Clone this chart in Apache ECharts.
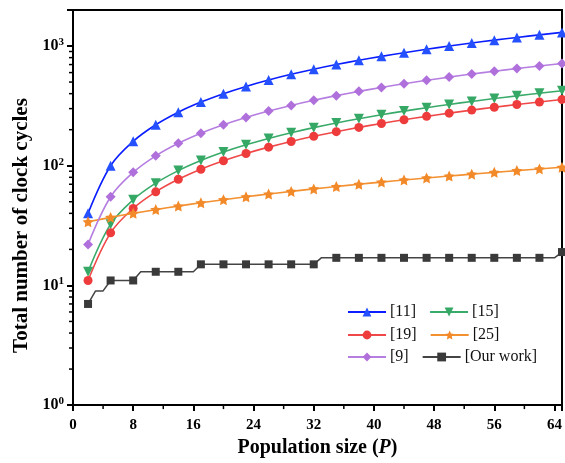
<!DOCTYPE html>
<html>
<head>
<meta charset="utf-8">
<script src="https://cdn.jsdelivr.net/npm/echarts@6/dist/echarts.min.js"></script>
<style>html,body{margin:0;padding:0;background:#fff}#c{width:565px;height:463px}</style>
</head>
<body>
<div id="c"></div>
<script>
// Population sizes where markers are drawn
var P = [2,5,8,11,14,17,20,23,26,29,32,35,38,41,44,47,50,53,56,59,62,65];
var ref11 = [40,100,160,220,280,340,400,460,520,580,640,700,760,820,880,940,1000,1060,1120,1180,1240,1300];
var ref15 = [13,32.5,52,71.5,91,110.5,130,149.5,169,188.5,208,227.5,247,266.5,286,305.5,325,344.5,364,383.5,403,422.5];
var ref19 = [11,27.5,44,60.5,77,93.5,110,126.5,143,159.5,176,192.5,209,225.5,242,258.5,275,291.5,308,324.5,341,357.5];
var ref25 = [34,37,40,43,46,49,52,55,58,61,64,67,70,73,76,79,82,85,88,91,94,97];
var ref9  = [22,55,88,121,154,187,220,253,286,319,352,385,418,451,484,517,550,583,616,649,682,715];
// Our work: every integer P from 2 to 65 (step line)
var ourP = [];
for (var i = 2; i <= 65; i++) ourP.push(i);
var ourVals = [7,9,9,11,11,11,11,13,13,13,13,13,13,13,13,
  15,15,15,15,15,15,15,15,15,15,15,15,15,15,15,15,
  17,17,17,17,17,17,17,17,17,17,17,17,17,17,17,17,17,17,17,17,17,17,17,17,17,17,17,17,17,17,17,17,
  19];
var xTicks = [0,8,16,24,32,40,48,56,64];
var names = ['[11]','[15]','[19]','[25]','[9]','[Our work]'];

var FONT = "'Liberation Serif','Times New Roman',serif";
var STAR = 'path://M0,-100 L29.4,-40.5 L95.1,-30.9 L47.6,15.5 L58.8,80.9 L0,50 L-58.8,80.9 L-47.6,15.5 L-95.1,-30.9 L-29.4,-40.5 Z';
var DOWNTRI = 'path://M0,0 L200,0 L100,173 Z';

function pts(xs, ys) { return xs.map(function (x, k) { return [x, ys[k]]; }); }

function lineSeries(name, ys, lineColor, color, symbol, size) {
  return {
    name: name, type: 'line', data: pts(P, ys), smooth: 0.35,
    symbol: symbol, symbolSize: size, showSymbol: true,
    lineStyle: { color: lineColor, width: 1.6 },
    itemStyle: { color: color },
    z: 3
  };
}

var ourData = ourP.map(function (x, k) {
  var m = (x - 2) % 3 === 0;
  return { value: [x, ourVals[k]], symbol: m ? 'rect' : 'none' };
});

var minorY = [];
[1, 10, 100].forEach(function (d) { for (var j = 2; j <= 9; j++) minorY.push([0, j * d]); });
var minorX = [4,12,20,28,36,44,52,60].map(function (v) { return [v, 1]; });

var chart = echarts.init(document.getElementById('c'), null, { renderer: 'canvas' });
var legendBase = {
  orient: 'horizontal', left: 347, padding: 0, itemGap: 13, itemWidth: 38, itemHeight: 11,
  textStyle: { fontFamily: FONT, fontSize: 16, color: '#111', padding: [0, 0, 0, -1] }
};
chart.setOption({
  animation: false,
  backgroundColor: '#fff',
  grid: { left: 73, right: 1, top: 10, bottom: 56, show: true, borderColor: '#000', borderWidth: 2, backgroundColor: 'transparent' },
  legend: [
    Object.assign({}, legendBase, { data: [names[0], names[1]], top: 304 }),
    Object.assign({}, legendBase, { data: [names[2], names[3]], top: 327 }),
    Object.assign({}, legendBase, { data: [names[4], names[5]], top: 349 })
  ],
  xAxis: {
    type: 'value', min: 0, max: 65, interval: 8,
    name: '{b|Population size (}{i|P}{b|)}', nameLocation: 'middle', nameGap: 26,
    nameTextStyle: { rich: {
      b: { fontFamily: FONT, fontWeight: 'bold', fontSize: 20, color: '#000' },
      i: { fontFamily: FONT, fontWeight: 'bold', fontStyle: 'italic', fontSize: 20, color: '#000' } } },
    axisLine: { show: true, lineStyle: { color: '#000', width: 2 } },
    axisTick: { show: true, length: 6, lineStyle: { color: '#000', width: 2 } },
    axisLabel: {
      margin: 13, fontFamily: FONT, fontWeight: 'bold', fontSize: 15, color: '#000',
      formatter: function (v) { return xTicks.indexOf(v) >= 0 ? String(v) : ''; }
    },
    splitLine: { show: false }
  },
  yAxis: {
    type: 'log', logBase: 10, min: 1, max: 2000,
    name: 'Total number of clock cycles', nameLocation: 'middle', nameGap: 41,
    nameTextStyle: { fontFamily: FONT, fontWeight: 'bold', fontSize: 21, color: '#000', padding: [0, 36, 0, 0] },
    axisLine: { show: true, lineStyle: { color: '#000', width: 2 } },
    axisTick: { show: true, length: 6, lineStyle: { color: '#000', width: 2 } },
    axisLabel: {
      margin: 9, color: '#000',
      formatter: function (v) {
        var e = Math.log10(v);
        if (Math.abs(e - Math.round(e)) > 1e-6) return '';
        return '{b|10}{s|' + Math.round(e) + '}';
      },
      rich: {
        b: { fontFamily: FONT, fontWeight: 'bold', fontSize: 16, color: '#000' },
        s: { fontFamily: FONT, fontWeight: 'bold', fontSize: 11, color: '#000', verticalAlign: 'top', padding: [0, 0, 8, 0] }
      }
    },
    splitLine: { show: false }
  },
  series: [
    lineSeries(names[0], ref11, '#0a1eff', '#2450ff', 'triangle', 10),
    lineSeries(names[1], ref15, '#3aaa6a', '#35a865', DOWNTRI, 10),
    lineSeries(names[2], ref19, '#f04848', '#ee3c3c', 'circle', 9),
    lineSeries(names[3], ref25, '#f39030', '#f28a2a', STAR, 11),
    lineSeries(names[4], ref9, '#b57ee0', '#b070dc', 'diamond', 10),
    {
      name: names[5], type: 'line', data: ourData, symbol: 'rect', symbolSize: 8, showSymbol: true,
      lineStyle: { color: '#444', width: 1.5 }, itemStyle: { color: '#3a3a3a' }, z: 4
    },
    {
      type: 'custom', name: 'minorY', silent: true, data: minorY, encode: { x: 0, y: 1 },
      renderItem: function (params, api) {
        var p = api.coord([0, api.value(1)]);
        return { type: 'line', shape: { x1: p[0] - 4, y1: p[1], x2: p[0], y2: p[1] }, style: { stroke: '#000', lineWidth: 1.5 } };
      }
    },
    {
      type: 'custom', name: 'minorX', silent: true, data: minorX, encode: { x: 0, y: 1 },
      renderItem: function (params, api) {
        var p = api.coord([api.value(0), 1]);
        return { type: 'line', shape: { x1: p[0], y1: p[1], x2: p[0], y2: p[1] + 4 }, style: { stroke: '#000', lineWidth: 1.5 } };
      }
    }
  ]
});
</script>
</body>
</html>
